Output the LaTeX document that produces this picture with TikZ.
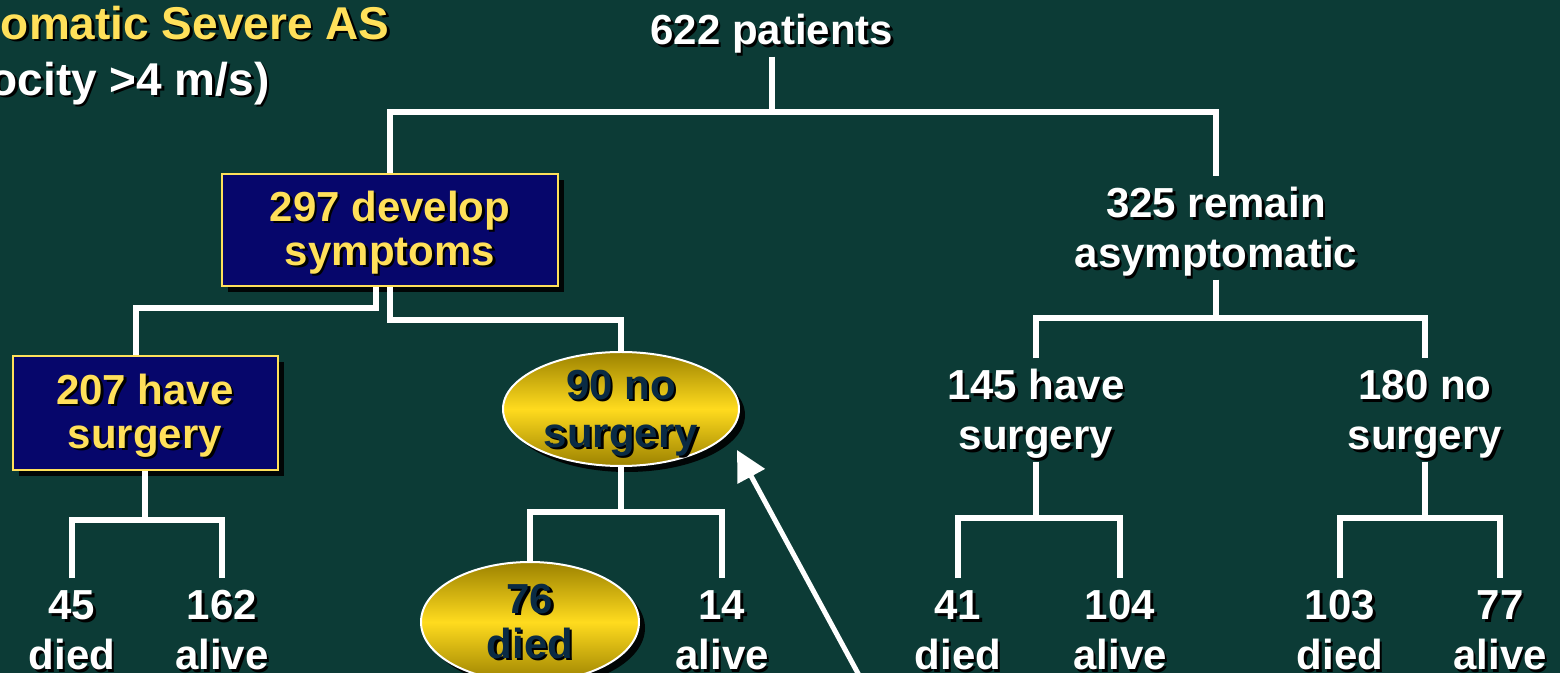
\documentclass[tikz,border=0pt]{standalone}
\usepackage{fontspec}
\setmainfont{Liberation Sans}
\usetikzlibrary{calc, positioning, shapes.geometric, arrows.meta, shadows}
\definecolor{bgTeal}{HTML}{0C3B36}
\definecolor{boxNavy}{HTML}{06066B}
\definecolor{accentYellow}{HTML}{FFE05A}
\definecolor{goldLight}{HTML}{FFDB1E}
\definecolor{goldDark}{HTML}{9C8200}
\definecolor{ovalText}{HTML}{0A2B44}

% text with a small dark drop shadow, set a little low in its box
\newcommand{\tsh}[2][black]{\leavevmode\raisebox{-3pt}[\height][\depth]{\rlap{\kern1.2pt\raisebox{-1.2pt}{\color{#1}\begin{tabular}{@{}c@{}}#2\end{tabular}}}\begin{tabular}{@{}c@{}}#2\end{tabular}}}

\tikzset{
  conn/.style={draw=white, line width=3pt},
  lbl/.style={text=white, inner sep=0pt, font=\bfseries\fontsize{21}{25}\selectfont},
  boxnode/.style={draw=accentYellow, line width=1pt, fill=boxNavy, text=accentYellow,
    inner sep=0pt, font=\bfseries\fontsize{21}{22}\selectfont,
    drop shadow={shadow xshift=3pt, shadow yshift=-3pt, fill=black, opacity=.9}},
  ovalnode/.style={ellipse, draw=white, line width=1pt, inner sep=0pt,
    top color=goldDark, bottom color=goldDark, middle color=goldLight,
    drop shadow={shadow xshift=3pt, shadow yshift=-3pt, fill=black, opacity=.9}},
  ovallbl/.style={lbl, text=ovalText, font=\bfseries\fontsize{21}{24}\selectfont},
  pointer/.style={draw=white, line width=2.5pt, -{Triangle[length=15pt, width=15pt]}}
}

\begin{document}
\begin{tikzpicture}[x=0.5pt, y=-0.5pt]
  \clip (0,0) rectangle (1560,673);
  \fill[bgTeal] (0,0) rectangle (1560,673);

  % title (cut at the left edge)
  \node[lbl, text=accentYellow, anchor=east, font=\bfseries\fontsize{23}{27}\selectfont] (ttl) at (390,24) {\tsh{omatic Severe AS}};
  \node[lbl, anchor=east, font=\bfseries\fontsize{23}{27}\selectfont] (sub) at (270,80) {\tsh{ocity >4 m/s)}};

  % tree nodes
  \node[lbl] (pat) at (772,30) {\tsh{622 patients}};
  \node[boxnode, minimum width=168pt, minimum height=56pt] (sym) at (390,230) {\tsh{297 develop\\symptoms}};
  \node[lbl] (rem) at (1216,228) {\tsh{325 remain\\asymptomatic}};
  \node[boxnode, minimum width=132.5pt, minimum height=57pt] (have) at (145,413) {\tsh{207 have\\surgery}};
  \node[ovalnode, minimum width=118pt, minimum height=57pt] (nos) at (621,409) {};
  \node[ovallbl] (nostxt) at (nos) {\tsh{90 no\\surgery}};
  \node[lbl] (rsurg) at (1036,410) {\tsh{145 have\\surgery}};
  \node[lbl] (rnos) at (1425,410) {\tsh{180 no\\surgery}};

  % outcomes
  \node[lbl] (ldied) at (72,630) {\tsh{45\\died}};
  \node[lbl] (lalive) at (222,630) {\tsh{162\\alive}};
  \node[ovalnode, minimum width=109pt, minimum height=60pt] (ndied) at (530,622) {};
  \node[ovallbl, font=\bfseries\fontsize{21}{22.5}\selectfont] (ndiedtxt) at (ndied) {\tsh{76\\died}};
  \node[lbl] (nalive) at (722,630) {\tsh{14\\alive}};
  \node[lbl] (sdied) at (958,630) {\tsh{41\\died}};
  \node[lbl] (salive) at (1120,630) {\tsh{104\\alive}};
  \node[lbl] (rdied) at (1340,630) {\tsh{103\\died}};
  \node[lbl] (ralive) at (1500,630) {\tsh{77\\alive}};

  % junctions
  \coordinate (jtop) at (772,112);
  \coordinate (jl) at (136,308);
  \coordinate (jr) at (621,320);
  \coordinate (jh) at (145,520);
  \coordinate (jn) at (621,512);
  \coordinate (jrem) at (1216,318);
  \coordinate (js) at (1036,518);
  \coordinate (jns) at (1425,518);

  \draw[conn] (pat.south) -- (jtop);
  \draw[conn] (sym.north) |- (jtop) -| (rem.north);
  \draw[conn] ([xshift=-7pt]sym.south) |- (jl) -- (jl |- have.north);
  \draw[conn] (sym.south) |- (jr) -- (nos.north);
  \draw[conn] (have.south) -- (jh);
  \draw[conn] (ldied.north) |- (jh) -| (lalive.north);
  \draw[conn] (nos.south) -- (jn);
  \draw[conn] (ndied.north) |- (jn) -| (nalive.north);
  \draw[conn] (rem.south) -- (jrem);
  \draw[conn] (rsurg.north) |- (jrem) -| (rnos.north);
  \draw[conn] (rsurg.south) -- (js);
  \draw[conn] (sdied.north) |- (js) -| (salive.north);
  \draw[conn] (rnos.south) -- (jns);
  \draw[conn] (rdied.north) |- (jns) -| (ralive.north);

  % pointer to the no-surgery group
  \coordinate (tail) at (867,690);
  \coordinate (tip) at ([shift={(116,41)}]nos.center);
  \draw[pointer] (tail) -- (tip);
\end{tikzpicture}
\end{document}
